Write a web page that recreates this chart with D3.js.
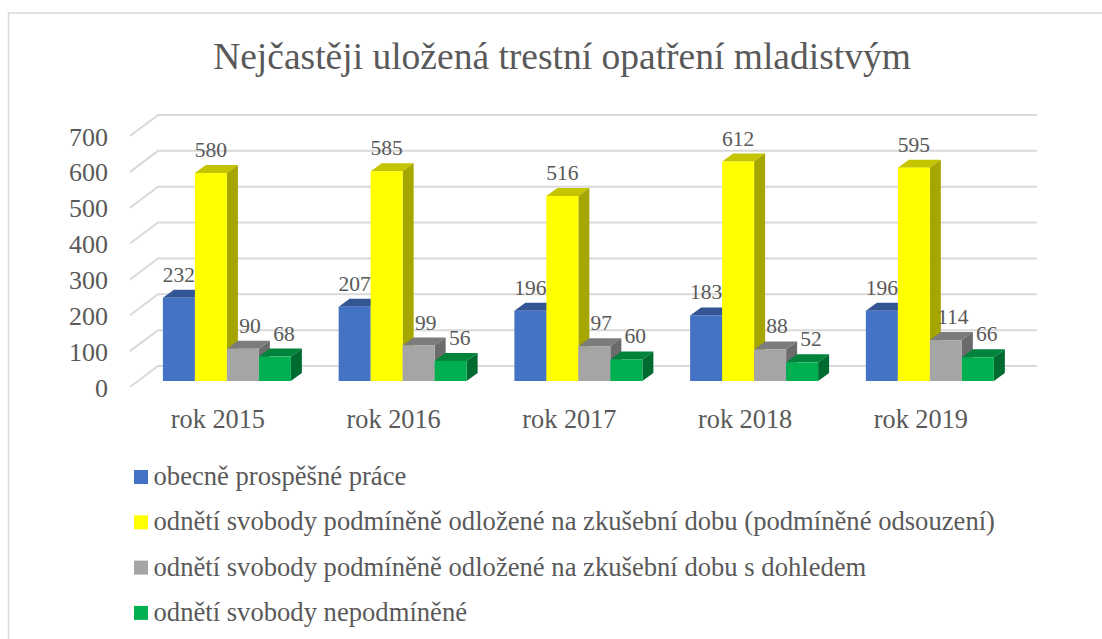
<!DOCTYPE html>
<html><head><meta charset="utf-8">
<script src="https://cdn.jsdelivr.net/npm/d3@7"></script>
<style>html,body{margin:0;padding:0;background:#fff;overflow:hidden}svg{display:block}text{font-family:"Liberation Serif",serif;fill:#595959}</style>
</head><body><svg id="c" width="1102" height="639"></svg>
<script>
const title = "Nejčastěji uložená trestní opatření mladistvým";
const categories = ["rok 2015","rok 2016","rok 2017","rok 2018","rok 2019"];
const seriesNames = ["obecně prospěšné práce","odnětí svobody podmíněně odložené na zkušební dobu (podmíněné odsouzení)","odnětí svobody podmíněně odložené na zkušební dobu s dohledem","odnětí svobody nepodmíněné"];
const obecne = [232,207,196,183,196];
const podminene = [580,585,516,612,595];
const dohled = [90,99,97,88,114];
const nepodminene = [68,56,60,52,66];
const yTicks = [0,100,200,300,400,500,600,700];
const seriesValues = [obecne,podminene,dohled,nepodminene];
const front = ["#4472c4","#ffff00","#a5a5a5","#00b050"];
const top_ = ["#335593","#c4c400","#7c7c7c","#00843c"];
const side = ["#2d4c83","#a6a600","#6b6b6b","#006b31"];
const labelNudge = [0,0,7,9];

const svg = d3.select("#c");
svg.append("path").attr("fill","none").attr("stroke","#d9d9d9").attr("stroke-width",1.5)
  .attr("d","M8.5,639L8.5,13L1102,13");
svg.append("text").attr("x",562).attr("y",69).attr("text-anchor","middle").attr("font-size",37.5).text(title);

const y = d3.scaleLinear().domain([0,700]).range([381,130]);
const x0 = d3.scaleBand().domain(categories).range([130,1008.75]).paddingInner(0.2717).paddingOuter(0.136);
const x1 = d3.scaleBand().domain(d3.range(4)).range([0,x0.bandwidth()]);
const barDx=11, barDy=8, floorDx=28, floorDy=21, floorFront=6;
const barShift = 9;

const gGrid = svg.append("g");
yTicks.forEach(t=>{
  const yb = y(t)-15;
  gGrid.append("path").attr("fill","none").attr("stroke","#d9d9d9").attr("stroke-width",2)
   .attr("d",`M130,${yb+floorDy}L${130+floorDx},${yb}L1037,${yb}`);
});
const axisG = svg.append("g").attr("transform","translate(122,0)")
  .call(d3.axisLeft(y).tickValues(yTicks).tickSize(0).tickPadding(14).tickFormat(d3.format("d")));
axisG.select(".domain").remove();
axisG.selectAll("text").attr("font-size",26).attr("dy",null)
  .attr("y",0).each(function(d){d3.select(this).attr("transform",`translate(0,${floorFront+9})`)});

const bars = svg.append("g");
categories.forEach((c,i)=>{
  d3.range(4).forEach(s=>{
    const v=seriesValues[s][i];
    const L=x0(c)+x1(s)+barShift, W=x1.bandwidth(), T=y(v), B=y(0);
    bars.append("path").attr("fill",top_[s]).attr("d",`M${L},${T}L${L+barDx},${T-barDy}L${L+W+barDx},${T-barDy}L${L+W},${T}Z`);
    bars.append("path").attr("fill",side[s]).attr("d",`M${L+W},${T}L${L+W+barDx},${T-barDy}L${L+W+barDx},${B-barDy}L${L+W},${B}Z`);
    bars.append("rect").attr("x",L).attr("y",T).attr("width",W).attr("height",B-T).attr("fill",front[s]);
  });
});
categories.forEach((c,i)=>{
  seriesValues.forEach((vals,s)=>{
    const cx=x0(c)+x1(s)+barShift+x1.bandwidth()/2+labelNudge[s];
    svg.append("text").attr("x",cx).attr("y",y(vals[i])-16).attr("text-anchor","middle").attr("font-size",21.5).text(vals[i]);
  });
  svg.append("text").attr("x",x0(c)+x0.bandwidth()/2).attr("y",428).attr("text-anchor","middle").attr("font-size",26.3).text(c);
});
const lg = svg.append("g");
seriesNames.forEach((n,i)=>{
  const ly=470+i*45.3;
  lg.append("rect").attr("x",134).attr("y",ly).attr("width",14).attr("height",14).attr("fill",front[i]);
  lg.append("text").attr("x",153.5).attr("y",ly+15).attr("font-size",26.63).text(n);
});
</script></body></html>
